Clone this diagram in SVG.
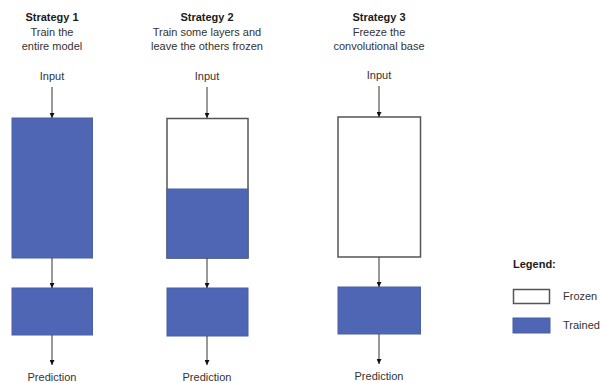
<svg xmlns="http://www.w3.org/2000/svg" width="601" height="383" viewBox="0 0 601 383">
  <style>
    text { font-family: "Liberation Sans", Arial, sans-serif; font-size: 11px; fill: #333; text-anchor: middle; }
    .head { font-weight: bold; fill: #1a1a1a; }
    .left { text-anchor: start; }
    .trained { fill: #4e66b3; stroke: #4a5fa6; stroke-width: 1; }
    .frozen { fill: #ffffff; stroke: #555; stroke-width: 1.5; }
    .conn { stroke: #333; stroke-width: 1; fill: none; marker-end: url(#arrow); }
  </style>
  <defs>
    <marker id="arrow" viewBox="0 0 6 6" refX="6" refY="3" markerWidth="5" markerHeight="5" markerUnits="userSpaceOnUse" orient="auto">
      <path d="M0,0 L6,3 L0,6 z" fill="#111"/>
    </marker>
  </defs>
  <rect width="601" height="383" fill="#ffffff"/>

  <!-- Strategy 1: everything trained -->
  <g id="strategy1">
    <text class="head" x="52" y="21">Strategy 1</text>
    <text x="52" y="36">Train the</text>
    <text x="52" y="50">entire model</text>
    <text x="52" y="80">Input</text>
    <rect class="trained" x="12" y="118" width="80.5" height="140"/>
    <rect class="trained" x="12" y="288" width="80.5" height="47"/>
    <text x="52" y="381">Prediction</text>
  </g>

  <!-- Strategy 2: lower layers frozen, upper layers trained -->
  <g id="strategy2">
    <text class="head" x="207" y="21">Strategy 2</text>
    <text x="207" y="36">Train some layers and</text>
    <text x="207" y="50">leave the others frozen</text>
    <text x="207" y="80">Input</text>
    <rect class="frozen" x="167" y="118.5" width="81" height="139.5"/>
    <rect class="trained" x="167" y="189" width="81" height="69"/>
    <rect class="trained" x="167" y="288" width="81" height="48"/>
    <text x="207" y="381">Prediction</text>
  </g>

  <!-- Strategy 3: convolutional base frozen -->
  <g id="strategy3">
    <text class="head" x="379" y="21">Strategy 3</text>
    <text x="379" y="36">Freeze the</text>
    <text x="379" y="50">convolutional base</text>
    <text x="379" y="79">Input</text>
    <rect class="frozen" x="338" y="117" width="82.5" height="140"/>
    <rect class="trained" x="338" y="287" width="82.5" height="47"/>
    <text x="379" y="380">Prediction</text>
  </g>

  <!-- Legend -->
  <g id="legend">
    <text class="head left" x="513" y="268">Legend:</text>
    <rect class="frozen" x="513.5" y="289.5" width="36" height="14"/>
    <text class="left" x="563" y="300">Frozen</text>
    <rect class="trained" x="513" y="318" width="37" height="15"/>
    <text class="left" x="563" y="329">Trained</text>
  </g>

  <!-- Connectors -->
  <g id="connectors">
    <line class="conn" x1="52" y1="87" x2="52" y2="118"/>
    <line class="conn" x1="52" y1="258" x2="52" y2="288"/>
    <line class="conn" x1="52" y1="335" x2="52" y2="365"/>
    <line class="conn" x1="207" y1="87" x2="207" y2="118"/>
    <line class="conn" x1="207" y1="258" x2="207" y2="288"/>
    <line class="conn" x1="207" y1="336" x2="207" y2="365"/>
    <line class="conn" x1="379" y1="86" x2="379" y2="117"/>
    <line class="conn" x1="379" y1="257" x2="379" y2="287"/>
    <line class="conn" x1="379" y1="334" x2="379" y2="364"/>
  </g>
</svg>
